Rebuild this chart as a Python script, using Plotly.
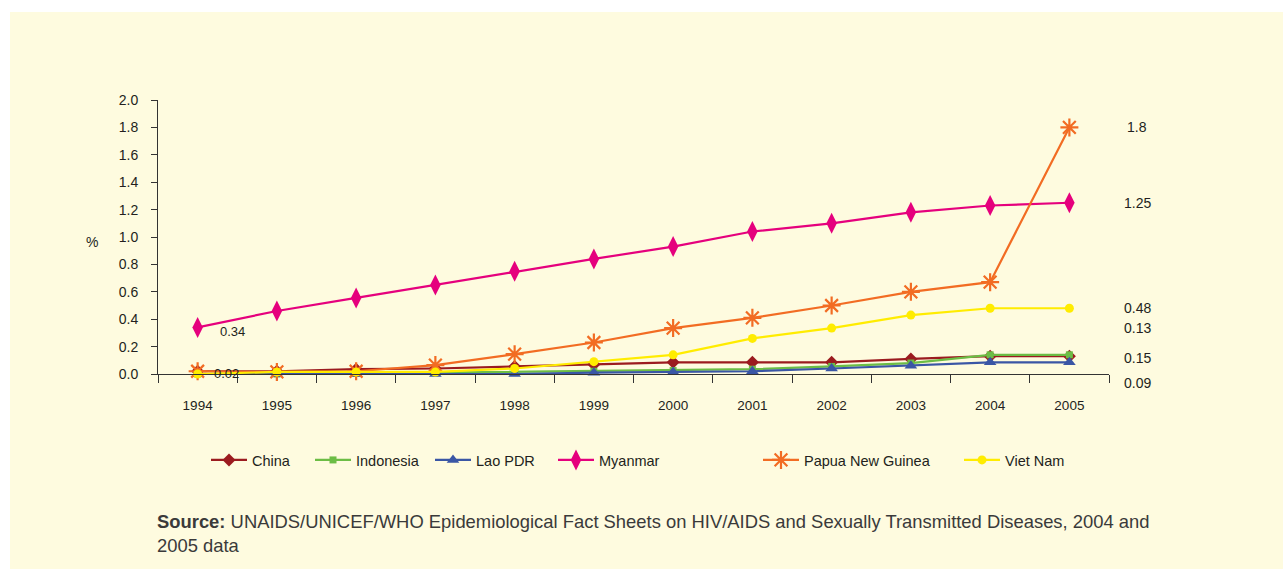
import plotly.graph_objects as go

years = ["1994", "1995", "1996", "1997", "1998", "1999", "2000", "2001", "2002", "2003", "2004", "2005"]

china = [0.02, 0.02, 0.035, 0.04, 0.055, 0.07, 0.085, 0.085, 0.085, 0.11, 0.13, 0.13]
indonesia = [0.0, 0.0, 0.005, 0.01, 0.015, 0.02, 0.025, 0.035, 0.055, 0.08, 0.14, 0.14]
lao = [0.0, 0.0, 0.0, 0.0, 0.0, 0.01, 0.015, 0.02, 0.04, 0.06, 0.085, 0.085]
myanmar = [0.34, 0.46, 0.555, 0.65, 0.75, 0.84, 0.93, 1.04, 1.10, 1.18, 1.23, 1.25]
png = [0.02, 0.015, 0.02, 0.065, 0.145, 0.23, 0.335, 0.41, 0.50, 0.60, 0.67, 1.80]
vietnam = [0.0, 0.015, 0.015, 0.015, 0.04, 0.09, 0.14, 0.26, 0.335, 0.43, 0.48, 0.48]

# end labels as printed on the right, with the height each sits at
end_labels = ["1.8", "1.25", "0.48", "0.13", "0.15", "0.09"]
end_label_y = [1.80, 1.25, 0.48, 0.335, 0.12, -0.065]

BG = "#FEFBDF"
TXT = "#231F20"
FONT = "Liberation Sans, Arial, sans-serif"

# plot area in page pixels
L, R, T, B = 158, 1109, 100, 374
PW, PH = R - L, B - T


def px_x(p):
    return (p - L) / PW


def px_y(p):
    return (B - p) / PH


fig = go.Figure()

series = [
    ("China", china, "#9B1B1F", dict(symbol="diamond", size=10), 206),
    ("Indonesia", indonesia, "#6CBD45", dict(symbol="square", size=7), 310),
    ("Lao PDR", lao, "#3A56A5", dict(symbol="triangle-up", size=11), 430),
    ("Myanmar", myanmar, "#E5007D", dict(symbol="diamond-tall", size=15), 553),
    ("Papua New Guinea", png, "#F26C23", dict(symbol="asterisk-open", size=15), 758),
    ("Viet Nam", vietnam, "#FFEC00", dict(symbol="circle", size=9), 959),
]

legends = {}
for i, (name, vals, col, mk, lx) in enumerate(series):
    marker = dict(color=col, **mk)
    if mk["symbol"] == "asterisk-open":
        marker["line"] = dict(color=col, width=2.2)
    lg = "legend" if i == 0 else f"legend{i + 1}"
    legends[lg] = dict(x=px_x(lx), xanchor="left", y=px_y(460), yanchor="middle",
                       bgcolor="rgba(0,0,0,0)", itemwidth=36,
                       font=dict(size=14.5, color=TXT, family=FONT))
    fig.add_trace(go.Scatter(
        x=years, y=vals, name=name, mode="lines+markers", legend=lg,
        line=dict(color=col, width=2.2), marker=marker, cliponaxis=False,
    ))

# cream panel with a thin white strip at top and left
fig.add_shape(type="rect", xref="paper", yref="paper",
              x0=px_x(10), x1=px_x(1290), y0=px_y(575), y1=px_y(12),
              fillcolor=BG, line_width=0, layer="below")

annotations = [
    dict(x=0, xref="x", y=myanmar[0], yref="y", text="0.34", xanchor="left", yanchor="middle",
         xshift=20, yshift=-4),
    dict(x=0, xref="x", y=png[0], yref="y", text="0.02", xanchor="left", yanchor="middle",
         xshift=14, yshift=-2),
    dict(x=px_x(92), xref="paper", y=px_y(242), yref="paper", text="%",
         xanchor="center", yanchor="middle", font=dict(size=14, color=TXT, family=FONT)),
]
for txt, yy in zip(end_labels, end_label_y):
    annotations.append(dict(x=px_x(1137), xref="paper", y=yy / 2.0, yref="paper", text=txt,
                            xanchor="center", yanchor="middle",
                            font=dict(size=14, color=TXT, family=FONT)))

annotations.append(dict(
    x=px_x(155), xref="paper", y=px_y(533), yref="paper",
    xanchor="left", yanchor="middle", align="left",
    text="<b>Source:</b> UNAIDS/UNICEF/WHO Epidemiological Fact Sheets on HIV/AIDS and Sexually Transmitted Diseases, 2004 and<br>2005 data",
    font=dict(size=18.4, color="#3A3A3A", family=FONT),
))

for a in annotations:
    a.setdefault("showarrow", False)
    a.setdefault("font", dict(size=13, color=TXT, family=FONT))

fig.update_layout(
    width=1283, height=569,
    margin=dict(l=L, r=1283 - R, t=T, b=569 - B),
    paper_bgcolor="white", plot_bgcolor=BG,
    font=dict(family=FONT, size=13, color=TXT),
    showlegend=True,
    annotations=annotations,
    **legends,
)

fig.update_xaxes(type="category", range=[-0.5, 11.5], tickson="boundaries",
                 ticks="outside", ticklen=8, tickcolor="#333", showline=True,
                 linecolor="#333", linewidth=1, showgrid=False, zeroline=False,
                 tickfont=dict(size=13.5, color=TXT), ticklabelstandoff=19)
fig.update_yaxes(range=[0, 2.0], dtick=0.2, tickformat=".1f", ticks="outside",
                 ticklen=6, tickcolor="#333", showline=True, linecolor="#333",
                 linewidth=1, showgrid=False, zeroline=False,
                 tickfont=dict(size=14, color=TXT), ticklabelstandoff=10)

fig.write_html("out.html", config={"displayModeBar": False},
               post_script="document.body.style.margin='0';")
